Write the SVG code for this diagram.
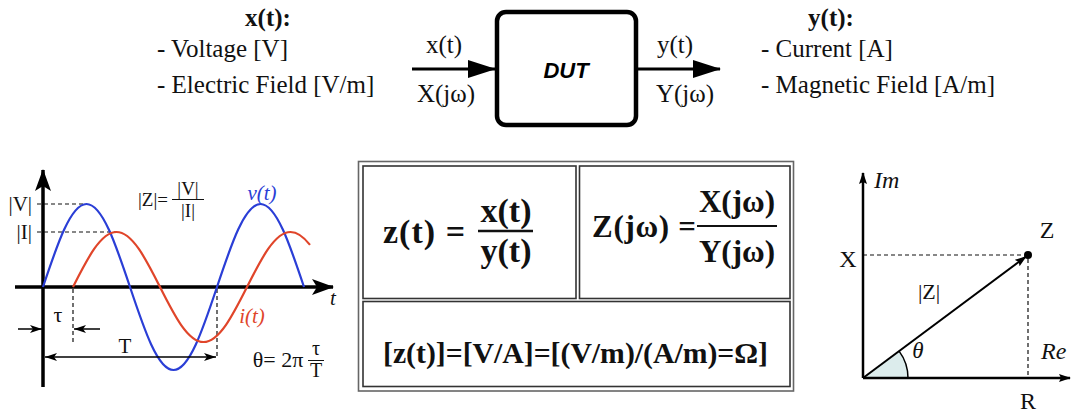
<svg xmlns="http://www.w3.org/2000/svg" width="1080" height="414" viewBox="0 0 1080 414">
<defs>
<style>
.serif{font-family:"Liberation Serif","Times New Roman",serif;fill:#111}
.lbl{font-size:25px}
.b{font-weight:bold}
.it{font-style:italic}
.dash{stroke:#111;stroke-width:1.2;stroke-dasharray:4 3;fill:none}
.cell{fill:none;stroke:#333;stroke-width:1.6}
</style>
<marker id="bigHead" viewBox="0 0 28 18" refX="27" refY="9" markerWidth="28" markerHeight="18" markerUnits="userSpaceOnUse" orient="auto">
<path d="M0,0 L28,9 L0,18 z" fill="#000"/>
</marker>
<marker id="axisHead" viewBox="0 0 22 16" refX="21" refY="8" markerWidth="22" markerHeight="16" markerUnits="userSpaceOnUse" orient="auto">
<path d="M0,0 L22,8 L0,16 L5,8 z" fill="#000"/>
</marker>
<marker id="smallHead" viewBox="0 0 12 8" refX="12" refY="4" markerWidth="12" markerHeight="8" markerUnits="userSpaceOnUse" orient="auto">
<path d="M0,0 L12,4 L0,8 L3,4 z" fill="#000"/>
</marker>
<marker id="phHead" viewBox="0 0 12 8" refX="11" refY="4" markerWidth="12" markerHeight="8" markerUnits="userSpaceOnUse" orient="auto">
<path d="M0,0 L12,4 L0,8 L2,4 z" fill="#000"/>
</marker>
</defs>
<rect width="1080" height="414" fill="#fff"/>

<!-- input description -->
<g id="input-desc" class="serif lbl">
<text x="268" y="26" text-anchor="middle" class="b">x(t):</text>
<text x="157" y="57">- Voltage [V]</text>
<text x="157" y="93">- Electric Field [V/m]</text>
</g>

<!-- DUT -->
<g id="dut">
<rect x="497" y="12" width="139" height="113" rx="9" fill="#fff" stroke="#000" stroke-width="4.5"/>
<text x="566" y="78" text-anchor="middle" font-family="Liberation Sans,Arial,sans-serif" font-size="22" font-weight="bold" font-style="italic" fill="#000">DUT</text>
</g>

<!-- output description -->
<g id="output-desc" class="serif lbl">
<text x="831" y="26" text-anchor="middle" class="b">y(t):</text>
<text x="761" y="57">- Current [A]</text>
<text x="761" y="93">- Magnetic Field [A/m]</text>
</g>

<!-- connectors -->
<g id="connectors">
<line x1="412" y1="69" x2="495" y2="69" stroke="#000" stroke-width="3" marker-end="url(#bigHead)"/>
<line x1="637" y1="69" x2="720" y2="69" stroke="#000" stroke-width="3" marker-end="url(#bigHead)"/>
<g class="serif lbl">
<text x="444" y="53" text-anchor="middle">x(t)</text>
<text x="446" y="102" text-anchor="middle">X(jω)</text>
<text x="675" y="53" text-anchor="middle">y(t)</text>
<text x="685" y="102" text-anchor="middle">Y(jω)</text>
</g>
</g>

<!-- time-domain plot -->
<g id="waveforms">
<line x1="43" y1="387" x2="43" y2="170" stroke="#000" stroke-width="3.5" marker-end="url(#axisHead)"/>
<line x1="15" y1="287" x2="333" y2="287" stroke="#000" stroke-width="3.5" marker-end="url(#axisHead)"/>
<line x1="37" y1="204" x2="86.5" y2="204" class="dash"/>
<line x1="37" y1="232" x2="116.5" y2="232" class="dash"/>
<line x1="73" y1="289" x2="73" y2="343" class="dash"/>
<line x1="217" y1="289" x2="217" y2="356" class="dash"/>
<path d="M43,287 C57.19,244.48 70.76,204 86.5,204 C102.24,204 115.81,244.48 130,287 C144.19,329.52 157.76,370 173.5,370 C189.24,370 202.81,329.52 217,287 C231.19,244.48 244.76,204 260.5,204 C276.24,204 289.81,244.48 304,287" fill="none" stroke="#2a3ed6" stroke-width="2.2"/>
<path d="M73,287 C87.19,258.82 100.76,232 116.5,232 C132.24,232 145.81,258.82 160,287 C174.19,315.18 187.76,342 203.5,342 C219.24,342 232.81,315.18 247,287 C261.19,258.82 274.76,232 290.5,232 C297,232 303.5,236.6 310,244.9" fill="none" stroke="#e0452a" stroke-width="2.2"/>
<line x1="18" y1="329" x2="42" y2="329" stroke="#000" stroke-width="1.5" marker-end="url(#smallHead)"/>
<line x1="100" y1="329" x2="74" y2="329" stroke="#000" stroke-width="1.5" marker-end="url(#smallHead)"/>
<line x1="130" y1="357" x2="45" y2="357" stroke="#000" stroke-width="1.5" marker-end="url(#smallHead)"/>
<line x1="130" y1="357" x2="216" y2="357" stroke="#000" stroke-width="1.5" marker-end="url(#smallHead)"/>
<g class="serif" font-size="21">
<text x="32" y="211" text-anchor="end">|V|</text>
<text x="32" y="239" text-anchor="end">|I|</text>
<text x="58" y="322" text-anchor="middle" font-size="22">τ</text>
<text x="125" y="353" text-anchor="middle" font-size="21">T</text>
<text x="153" y="206" text-anchor="middle" font-size="19">|Z|=</text>
<text x="188" y="195" text-anchor="middle" font-size="19">|V|</text>
<text x="188" y="217" text-anchor="middle" font-size="19">|I|</text>
<text x="278" y="367" text-anchor="middle" font-size="22">θ= 2π</text>
<text x="316" y="355" text-anchor="middle" font-size="20">τ</text>
<text x="316" y="377" text-anchor="middle" font-size="20">T</text>
<text x="333" y="305" text-anchor="middle" class="it" font-size="21">t</text>
</g>
<line x1="172" y1="199.5" x2="204" y2="199.5" stroke="#111" stroke-width="1"/>
<line x1="308" y1="360.5" x2="324" y2="360.5" stroke="#111" stroke-width="1"/>
<text x="262" y="200" text-anchor="middle" font-family="Liberation Serif,serif" font-style="italic" font-size="21" fill="#2a3ed6">v(t)</text>
<text x="252" y="323" text-anchor="middle" font-family="Liberation Serif,serif" font-style="italic" font-size="21" fill="#e0452a">i(t)</text>
</g>

<!-- formula table -->
<g id="formula-table">
<rect x="358.5" y="161.5" width="435" height="229.5" fill="#fff" stroke="#666" stroke-width="1.6"/>
<rect x="363" y="166" width="213" height="132.5" class="cell"/>
<rect x="579.5" y="166" width="210.5" height="132.5" class="cell"/>
<rect x="363" y="301.5" width="427" height="85" class="cell"/>
</g>
<g id="cell-time" class="serif b">
<text x="383" y="243" font-size="34" textLength="82">z(t) =</text>
<text x="506" y="222" text-anchor="middle" font-size="34">x(t)</text>
<line x1="478" y1="231" x2="533" y2="231" stroke="#111" stroke-width="2.5"/>
<text x="506" y="262" text-anchor="middle" font-size="34">y(t)</text>
</g>
<g id="cell-freq" class="serif b">
<text x="592" y="237" font-size="31" textLength="104">Z(jω) =</text>
<text x="737" y="212" text-anchor="middle" font-size="31">X(jω)</text>
<line x1="697" y1="226" x2="777" y2="226" stroke="#111" stroke-width="2"/>
<text x="737" y="262" text-anchor="middle" font-size="31">Y(jω)</text>
</g>
<g id="cell-units" class="serif b">
<text x="383" y="363" font-size="29" textLength="385" lengthAdjust="spacingAndGlyphs">[z(t)]=[V/A]=[(V/m)/(A/m)=Ω]</text>
</g>

<!-- phasor diagram -->
<g id="phasor">
<path d="M863,378 L908,378 A45,45 0 0 0 899.1,351.1 Z" fill="#dcecec"/>
<path d="M908,378 A45,45 0 0 0 899.1,351.1" fill="none" stroke="#000" stroke-width="1.5"/>
<line x1="863" y1="255" x2="1024" y2="255" class="dash" stroke-dasharray="5 4"/>
<line x1="1028" y1="259" x2="1028" y2="376" class="dash" stroke-dasharray="5 4"/>
<line x1="863" y1="378" x2="863" y2="173" stroke="#000" stroke-width="2.5" marker-end="url(#phHead)"/>
<line x1="863" y1="378" x2="1070" y2="378" stroke="#000" stroke-width="2.5" marker-end="url(#phHead)"/>
<line x1="863" y1="378" x2="1026" y2="256.5" stroke="#000" stroke-width="2" marker-end="url(#phHead)"/>
<circle cx="1028" cy="255" r="4" fill="#000"/>
<g class="serif" font-size="24">
<text x="874" y="188" class="it">Im</text>
<text x="1041" y="359" class="it">Re</text>
<text x="1047" y="238" text-anchor="middle">Z</text>
<text x="848" y="267" text-anchor="middle">X</text>
<text x="929" y="299" text-anchor="middle" font-size="22">|Z|</text>
<text x="918" y="358" text-anchor="middle" class="it" font-size="23">θ</text>
<text x="1028" y="409" text-anchor="middle">R</text>
</g>
</g>
</svg>
